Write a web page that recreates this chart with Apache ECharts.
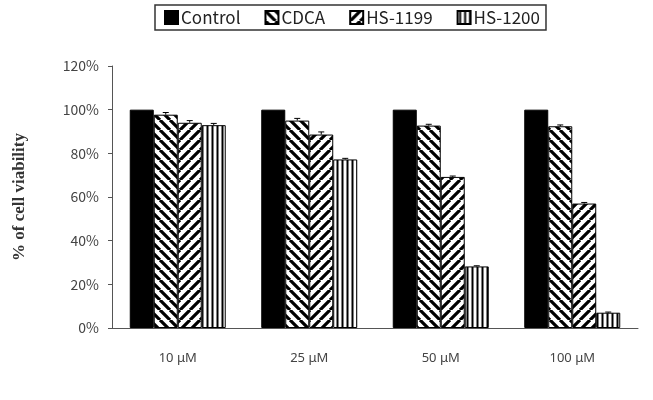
<!DOCTYPE html>
<html>
<head>
<meta charset="utf-8">
<script src="https://cdn.jsdelivr.net/npm/echarts@6/dist/echarts.min.js"></script>
<style>
  html, body { margin: 0; padding: 0; background: #fff; }
  #chart { width: 653px; height: 400px; }
</style>
</head>
<body>
<div id="chart"></div>
<script>
var categories = ['10 μM', '25 μM', '50 μM', '100 μM'];
var seriesNames = ['Control', 'CDCA', 'HS-1199', 'HS-1200'];
var control = [100, 100, 100, 100];
var cdca = [97.7, 95.0, 92.7, 92.4];
var hs1199 = [94.0, 88.6, 69.2, 57.0];
var hs1200 = [92.9, 77.2, 28.2, 7.0];
var errCdca = [1.0, 1.0, 0.6, 0.6];
var errHs1199 = [1.0, 1.2, 0.4, 0.5];
var errHs1200 = [0.8, 0.5, 0.3, 0.3];
var yTicks = [0, 20, 40, 60, 80, 100, 120];

// stripe patterns, drawn on small canvases
function stripes(kind) {
  var c = document.createElement('canvas');
  var s = kind === 'v' ? 5 : 10;
  c.width = s; c.height = s;
  var ctx = c.getContext('2d');
  ctx.fillStyle = '#fff';
  ctx.fillRect(0, 0, s, s);
  ctx.strokeStyle = '#000';
  if (kind === 'v') {
    ctx.lineWidth = 2;
    ctx.beginPath(); ctx.moveTo(2.5, 0); ctx.lineTo(2.5, s); ctx.stroke();
  } else {
    ctx.lineWidth = 3.2;
    ctx.beginPath();
    for (var k = -1; k <= 1; k++) {
      if (kind === 'back') { // "\" direction
        ctx.moveTo(k * s, 0); ctx.lineTo(k * s + s, s);
      } else { // "/" direction
        ctx.moveTo(k * s, s); ctx.lineTo(k * s + s, 0);
      }
    }
    ctx.stroke();
  }
  return { image: c, repeat: 'repeat' };
}

var fills = ['#000', stripes('back'), stripes('fwd'), stripes('v')];
var datas = [control, cdca, hs1199, hs1200];
var errs = [null, errCdca, errHs1199, errHs1200];
var gapPct = 27;

var series = seriesNames.map(function (n, i) {
  return {
    name: n,
    type: 'bar',
    barGap: '0%',
    barCategoryGap: gapPct + '%',
    data: datas[i],
    itemStyle: { color: fills[i], borderColor: '#000', borderWidth: 1 }
  };
});

// error bars (cap + stem above each bar)
var errData = [];
for (var i = 1; i < 4; i++) {
  for (var j = 0; j < categories.length; j++) {
    errData.push([j, datas[i][j], errs[i][j], i]);
  }
}
series.push({
  type: 'custom',
  silent: true,
  data: errData,
  z: 5,
  renderItem: function (params, api) {
    var cat = api.value(0), v = api.value(1), e = api.value(2), idx = api.value(3);
    var band = api.size([1, 0])[0];
    var barW = band * (1 - gapPct / 100) / 4;
    var p0 = api.coord([cat, v]);
    var p1 = api.coord([cat, v + e]);
    var x = p0[0] + (idx - 1.5) * barW;
    var style = { stroke: '#000', lineWidth: 1 };
    return {
      type: 'group',
      children: [
        { type: 'line', shape: { x1: x, y1: p0[1], x2: x, y2: p1[1] }, style: style },
        { type: 'line', shape: { x1: x - 3, y1: p1[1], x2: x + 3, y2: p1[1] }, style: style }
      ]
    };
  }
});

var chart = echarts.init(document.getElementById('chart'));
chart.setOption({
  animation: false,
  textStyle: { fontFamily: 'Noto Sans CJK KR' },
  legend: {
    data: seriesNames,
    top: 5,
    left: 155,
    itemWidth: 13,
    itemHeight: 13,
    itemGap: 24,
    padding: [4, 6, 4, 9],
    borderColor: '#333',
    borderWidth: 1.5,
    icon: 'rect',
    textStyle: { color: '#222', fontSize: 17, fontFamily: 'Noto Sans CJK KR', padding: [0, 0, 0, -2] }
  },
  grid: { left: 112, right: 15, top: 66, bottom: 72 },
  xAxis: {
    type: 'category',
    data: categories,
    axisLine: { lineStyle: { color: '#555', width: 1 } },
    axisTick: { inside: true, length: 4, lineStyle: { color: '#555' } },
    axisLabel: { color: '#444', fontSize: 13, margin: 24, fontFamily: 'Noto Sans' }
  },
  yAxis: {
    type: 'value',
    min: 0,
    max: 120,
    interval: 20,
    name: '% of cell viability',
    nameLocation: 'middle',
    nameGap: 84,
    nameTextStyle: { fontFamily: 'Liberation Serif', fontWeight: 'bold', fontSize: 17, color: '#333' },
    axisLine: { show: true, lineStyle: { color: '#555', width: 1 } },
    axisTick: { show: true, length: 4, lineStyle: { color: '#555' } },
    splitLine: { show: false },
    axisLabel: {
      color: '#444',
      fontSize: 14,
      margin: 13,
      formatter: function (v) { return yTicks.indexOf(v) >= 0 ? v + '%' : ''; }
    }
  },
  series: series
});
</script>
</body>
</html>
